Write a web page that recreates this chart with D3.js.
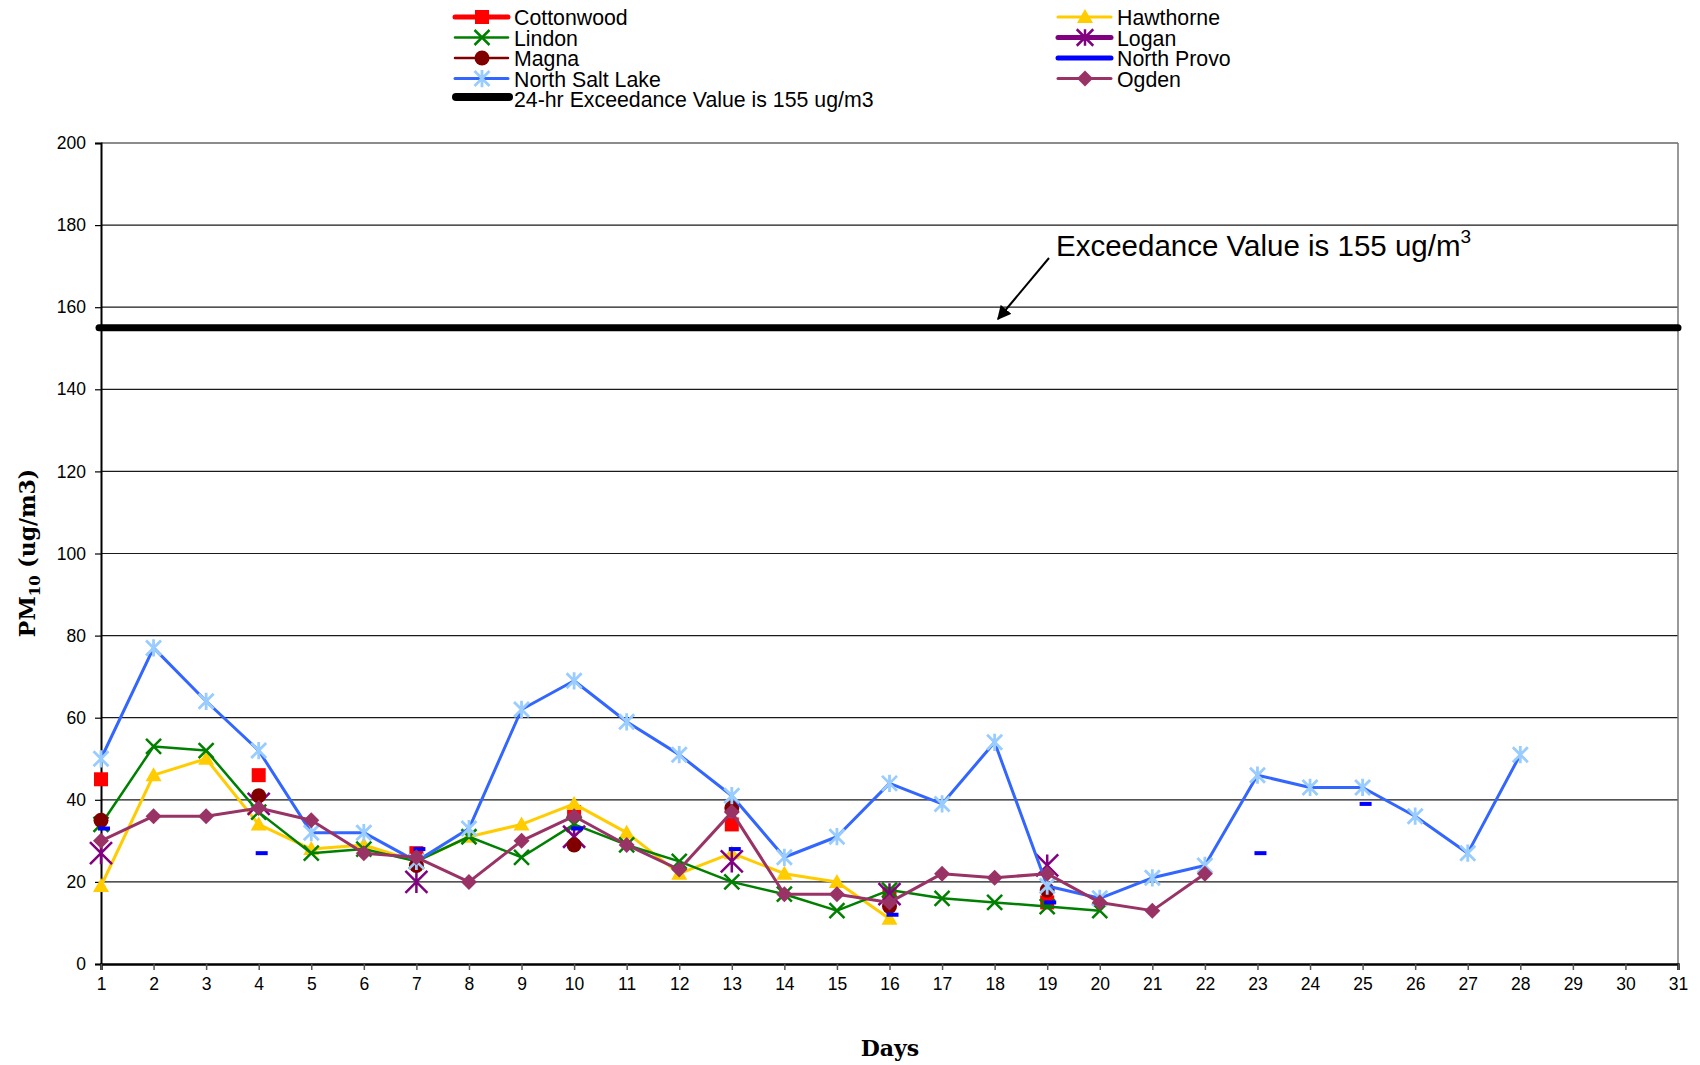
<!DOCTYPE html>
<html><head><meta charset="utf-8">
<script src="https://cdn.jsdelivr.net/npm/d3@7"></script>
<style>body{margin:0;background:#fff}</style>
</head><body><svg id="c" width="1700" height="1065"></svg>
<script>
const dayTicks = [1,2,3,4,5,6,7,8,9,10,11,12,13,14,15,16,17,18,19,20,21,22,23,24,25,26,27,28,29,30,31];
const yTicks = [0,20,40,60,80,100,120,140,160,180,200];
const exceedanceValue = 155;

const cottonwoodDays = [1,4,7,10,13,16,19];
const cottonwoodValues = [45,46,27,37,34,17,15];
const hawthorneDays = [1,2,3,4,5,6,7,8,9,10,11,12,13,14,15,16];
const hawthorneValues = [19,46,50,34,28,29,25,31,34,39,32,22,27,22,20,11];
const lindonDays = [1,2,3,4,5,6,7,8,9,10,11,12,13,14,15,16,17,18,19,20];
const lindonValues = [34,53,52,37,27,28,25,31,26,34,29,25,20,17,13,18,16,15,14,13];
const loganDays = [1,4,7,10,13,16,19];
const loganValues = [27,39,20,31,25,17,24];
const magnaDays = [1,4,7,10,13,16,19];
const magnaValues = [35,41,24,29,38,14,18];
const northProvoDays = [1,4,7,10,13,16,19,23,25];
const northProvoValues = [33,27,28,33,28,12,15,27,39];
const northSaltLakeDays = [1,2,3,4,5,6,7,8,9,10,11,12,13,14,15,16,17,18,19,20,21,22,23,24,25,26,27,28];
const northSaltLakeValues = [50,77,64,52,32,32,25,33,62,69,59,51,41,26,31,44,39,54,19,16,21,24,46,43,43,36,27,51];
const ogdenDays = [1,2,3,4,5,6,7,8,9,10,11,12,13,14,15,16,17,18,19,20,21,22];
const ogdenValues = [30,36,36,38,35,27,26,20,30,36,29,23,37,17,17,15,22,21,22,15,13,22];

const zip = (ds, vs) => ds.map((d,i)=>({day:d, value:vs[i]}));
const series = [
  {name:"Cottonwood", data:zip(cottonwoodDays,cottonwoodValues), line:"#FF0000", lw:5, connect:false, marker:"square", mc:"#FF0000"},
  {name:"Hawthorne", data:zip(hawthorneDays,hawthorneValues), line:"#FFCC00", lw:3, connect:true, marker:"triangle", mc:"#FFCC00"},
  {name:"Lindon", data:zip(lindonDays,lindonValues), line:"#008000", lw:2.5, connect:true, marker:"x", mc:"#008000"},
  {name:"Logan", data:zip(loganDays,loganValues), line:"#800080", lw:5, connect:false, marker:"bigstar", mc:"#800080"},
  {name:"Magna", data:zip(magnaDays,magnaValues), line:"#800000", lw:2.5, connect:false, marker:"circle", mc:"#800000"},
  {name:"North Provo", data:zip(northProvoDays,northProvoValues), line:"#0000FF", lw:5, connect:false, marker:"dash", mc:"#0000FF"},
  {name:"North Salt Lake", data:zip(northSaltLakeDays,northSaltLakeValues), line:"#3366FF", lw:3, connect:true, marker:"star", mc:"#99CCFF"},
  {name:"Ogden", data:zip(ogdenDays,ogdenValues), line:"#993366", lw:3, connect:true, marker:"diamond", mc:"#993366"}
];

const svg = d3.select("#c");
const L = 101, R = 1678, T = 143, B = 964;
const x = d3.scaleLinear().domain([1,31]).range([L,R]);
const y = d3.scaleLinear().domain([0,200]).range([B,T]);

// gridlines
svg.append("g").selectAll("line").data(yTicks.filter(v=>v>0)).join("line")
  .attr("x1",L).attr("x2",R).attr("y1",d=>y(d)).attr("y2",d=>y(d))
  .attr("stroke","#1a1a1a").attr("stroke-width",1.2);
// right border
svg.append("line").attr("x1",R).attr("x2",R).attr("y1",T).attr("y2",B)
  .attr("stroke","#777").attr("stroke-width",1.5);

// axes
const yAxis = d3.axisLeft(y).tickValues(yTicks).tickSize(6).tickPadding(9);
const gy = svg.append("g").attr("transform",`translate(${L},0)`).call(yAxis);
gy.select(".domain").attr("stroke","#000").attr("stroke-width",2);
gy.selectAll(".tick line").attr("stroke","#000").attr("stroke-width",1.2);
gy.selectAll("text").attr("font-family","'Liberation Sans', Arial, sans-serif").attr("font-size",17.5).attr("fill","#000");

const xAxis = d3.axisBottom(x).tickValues(dayTicks).tickFormat(d3.format("d")).tickSize(6).tickPadding(8);
const gx = svg.append("g").attr("transform",`translate(0,${B})`).call(xAxis);
gx.select(".domain").attr("stroke","#000").attr("stroke-width",2.5);
gx.selectAll(".tick line").attr("stroke","#555").attr("stroke-width",1.5);
gx.selectAll("text").attr("font-family","'Liberation Sans', Arial, sans-serif").attr("font-size",17.5).attr("fill","#000");

// marker drawing
function drawMarker(g, type, color, cx, cy, scale) {
  const s = scale || 1;
  if (type==="square") {
    g.append("rect").attr("x",cx-7*s).attr("y",cy-7*s).attr("width",14*s).attr("height",14*s).attr("fill",color);
  } else if (type==="triangle") {
    g.append("path").attr("d",`M${cx},${cy-8*s}L${cx+8*s},${cy+6*s}L${cx-8*s},${cy+6*s}Z`).attr("fill",color);
  } else if (type==="circle") {
    g.append("circle").attr("cx",cx).attr("cy",cy).attr("r",7.5*s).attr("fill",color);
  } else if (type==="diamond") {
    g.append("path").attr("d",`M${cx},${cy-8*s}L${cx+8*s},${cy}L${cx},${cy+8*s}L${cx-8*s},${cy}Z`).attr("fill",color);
  } else if (type==="x") {
    const h=7.5*s;
    g.append("path").attr("d",`M${cx-h},${cy-h}L${cx+h},${cy+h}M${cx-h},${cy+h}L${cx+h},${cy-h}`)
      .attr("stroke",color).attr("stroke-width",2.5).attr("fill","none");
  } else if (type==="star") {
    const h=7.5*s;
    g.append("path").attr("d",`M${cx-h},${cy-h}L${cx+h},${cy+h}M${cx-h},${cy+h}L${cx+h},${cy-h}M${cx},${cy-h*1.15}L${cx},${cy+h*1.15}`)
      .attr("stroke",color).attr("stroke-width",2.8).attr("fill","none");
  } else if (type==="bigstar") {
    const h=11*s;
    g.append("path").attr("d",`M${cx-h},${cy-h}L${cx+h},${cy+h}M${cx-h},${cy+h}L${cx+h},${cy-h}M${cx},${cy-h}L${cx},${cy+h}`)
      .attr("stroke",color).attr("stroke-width",2.5).attr("fill","none");
  } else if (type==="dash") {
    g.append("rect").attr("x",cx-3*s).attr("y",cy-2).attr("width",12*s).attr("height",4).attr("fill",color);
  }
}

// series
const plot = svg.append("g");
series.forEach(s => {
  const g = plot.append("g");
  if (s.connect) {
    g.append("path").datum(s.data)
      .attr("d", d3.line().x(d=>x(d.day)).y(d=>y(d.value)))
      .attr("fill","none").attr("stroke",s.line).attr("stroke-width",s.lw).attr("stroke-linejoin","round");
  }
  s.data.forEach(d => drawMarker(g, s.marker, s.mc, x(d.day), y(d.value)));
});

// exceedance line
svg.append("line").attr("x1",x(1)-2).attr("x2",x(31)).attr("y1",y(exceedanceValue)).attr("y2",y(exceedanceValue))
  .attr("stroke","#000").attr("stroke-width",7).attr("stroke-linecap","round");

// annotation
const ann = svg.append("text").attr("x",1056).attr("y",256)
  .attr("font-family","'Liberation Sans', Arial, sans-serif").attr("font-size",29.5).attr("fill","#000");
ann.append("tspan").text("Exceedance Value is 155 ug/m");
ann.append("tspan").attr("font-size",19).attr("dy",-13).text("3");
svg.append("defs").append("marker").attr("id","arr").attr("viewBox","0 0 10 10").attr("refX",9).attr("refY",5)
  .attr("markerWidth",7).attr("markerHeight",7).attr("orient","auto-start-reverse")
  .append("path").attr("d","M0,0L10,5L0,10Z").attr("fill","#000");
svg.append("line").attr("x1",1049).attr("y1",258).attr("x2",998).attr("y2",319)
  .attr("stroke","#000").attr("stroke-width",2).attr("marker-end","url(#arr)");

// axis titles
const yt = svg.append("text").attr("transform","translate(35,553) rotate(-90)").attr("text-anchor","middle")
  .attr("font-family","'DejaVu Serif', serif").attr("font-weight","bold").attr("font-size",22).attr("fill","#000");
yt.append("tspan").text("PM");
yt.append("tspan").attr("font-size",15).attr("dy",5).text("10");
yt.append("tspan").attr("dy",-5).text(" (ug/m3)");
svg.append("text").attr("x",890).attr("y",1056).attr("text-anchor","middle")
  .attr("font-family","'DejaVu Serif', serif").attr("font-weight","bold").attr("font-size",22).attr("fill","#000").text("Days");

// legend
const legendItems = [
  {ref:series[0], col:0, row:0},
  {ref:series[1], col:1, row:0},
  {ref:series[2], col:0, row:1},
  {ref:series[3], col:1, row:1},
  {ref:series[4], col:0, row:2},
  {ref:series[5], col:1, row:2},
  {ref:series[6], col:0, row:3},
  {ref:series[7], col:1, row:3}
];
const colX = [453, 1056];
const rowY = [17, 37.5, 58, 78.5, 99];
const lg = svg.append("g");
legendItems.forEach(it => {
  const x0 = colX[it.col], yy = rowY[it.row], s = it.ref;
  lg.append("line").attr("x1",x0+2).attr("x2",x0+55).attr("y1",yy).attr("y2",yy)
    .attr("stroke",s.line).attr("stroke-width",s.lw).attr("stroke-linecap","round");
  if (s.marker !== "dash") drawMarker(lg, s.marker, s.mc, x0+29, yy, s.marker==="bigstar"?0.75:1);
  lg.append("text").attr("x",x0+61).attr("y",yy+8).attr("font-family","'Liberation Sans', Arial, sans-serif")
    .attr("font-size",21.3).attr("fill","#000").text(s.name);
});
lg.append("line").attr("x1",456).attr("x2",509).attr("y1",rowY[4]-2).attr("y2",rowY[4]-2)
  .attr("stroke","#000").attr("stroke-width",8).attr("stroke-linecap","round");
lg.append("text").attr("x",514).attr("y",rowY[4]+8).attr("font-family","'Liberation Sans', Arial, sans-serif")
  .attr("font-size",21.3).attr("fill","#000").text("24-hr Exceedance Value is 155 ug/m3");
</script>
</body></html>
